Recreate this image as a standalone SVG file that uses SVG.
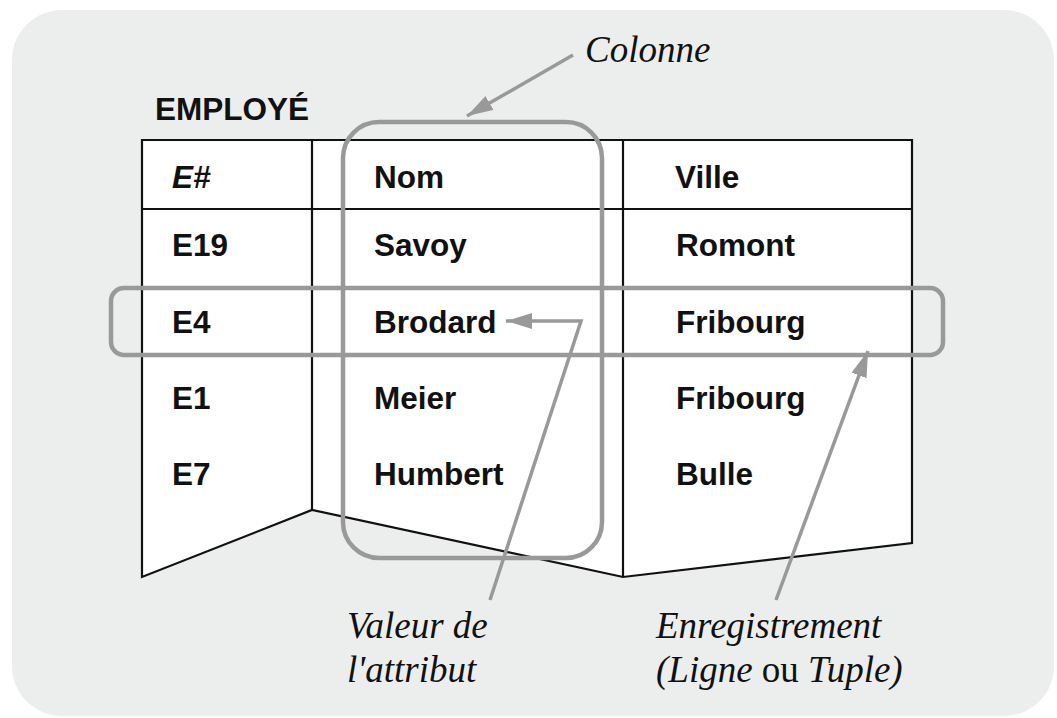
<svg xmlns="http://www.w3.org/2000/svg" width="1057" height="718" viewBox="0 0 1057 718">
  <style>
    .cell { font-family: "Liberation Sans", Arial, sans-serif; font-weight: bold; font-size: 31.5px; fill: #111; }
    .note { font-family: "Liberation Serif", "Times New Roman", serif; font-style: italic; font-size: 37px; fill: #111; }
    .grid { stroke: #111; stroke-width: 2.2; fill: none; }
    .hl { stroke: #999; stroke-width: 4.5; fill: none; }
    .ptr { stroke: #999; stroke-width: 3.5; fill: none; }
  </style>
  <defs>
    <marker id="head" markerUnits="userSpaceOnUse" markerWidth="30" markerHeight="20" refX="26" refY="8" orient="auto">
      <path d="M0,0 L26,8 L0,16 Z" fill="#999"/>
    </marker>
  </defs>

  <!-- page background -->
  <rect x="12" y="10" width="1042" height="706" rx="50" ry="50" fill="#eceeed"/>

  <g id="title">
    <text class="cell" x="155" y="120" font-size="31px">EMPLOYÉ</text>
  </g>

  <!-- table with folded bottom -->
  <g id="table">
    <path d="M142,140 H912 V543 L623,577 L312,510 L142,577 Z" fill="#fff" stroke="none"/>
    <path class="grid" d="M142,140 H912 V543 L623,577 L312,510 L142,577 Z"/>
    <line class="grid" x1="142" y1="209" x2="912" y2="209"/>
    <line class="grid" x1="312" y1="140" x2="312" y2="510"/>
    <line class="grid" x1="623" y1="140" x2="623" y2="577"/>

    <text class="cell" x="172" y="188" font-style="italic">E#</text>
    <text class="cell" x="374" y="188">Nom</text>
    <text class="cell" x="675" y="188">Ville</text>

    <text class="cell" x="172" y="256">E19</text>
    <text class="cell" x="374" y="256">Savoy</text>
    <text class="cell" x="676" y="256">Romont</text>

    <text class="cell" x="172" y="333">E4</text>
    <text class="cell" x="374" y="333">Brodard</text>
    <text class="cell" x="676" y="333">Fribourg</text>

    <text class="cell" x="172" y="409">E1</text>
    <text class="cell" x="374" y="409">Meier</text>
    <text class="cell" x="676" y="409">Fribourg</text>

    <text class="cell" x="172" y="485">E7</text>
    <text class="cell" x="374" y="485">Humbert</text>
    <text class="cell" x="676" y="485">Bulle</text>
  </g>

  <!-- highlighted column and row -->
  <g id="column-frame">
    <rect class="hl" x="343" y="122" width="259" height="436" rx="36" ry="36"/>
  </g>
  <g id="row-frame">
    <rect class="hl" x="111" y="288" width="832" height="67" rx="13" ry="13"/>
  </g>

  <!-- pointers -->
  <g id="connectors">
    <path class="ptr" d="M573,55 L467,116" marker-end="url(#head)" stroke-width="3"/>
    <path class="ptr" d="M490,600 L581,321 L506,321" marker-end="url(#head)"/>
    <path class="ptr" d="M776,600 L868,351" marker-end="url(#head)"/>
  </g>

  <g id="labels">
    <text class="note" x="585" y="62">Colonne</text>
    <text class="note" x="347" y="638">Valeur de</text>
    <text class="note" x="347" y="682">l'attribut</text>
    <text class="note" x="656" y="638">Enregistrement</text>
    <text class="note" x="656" y="682">(Ligne <tspan font-style="normal">ou</tspan> Tuple)</text>
  </g>
</svg>
